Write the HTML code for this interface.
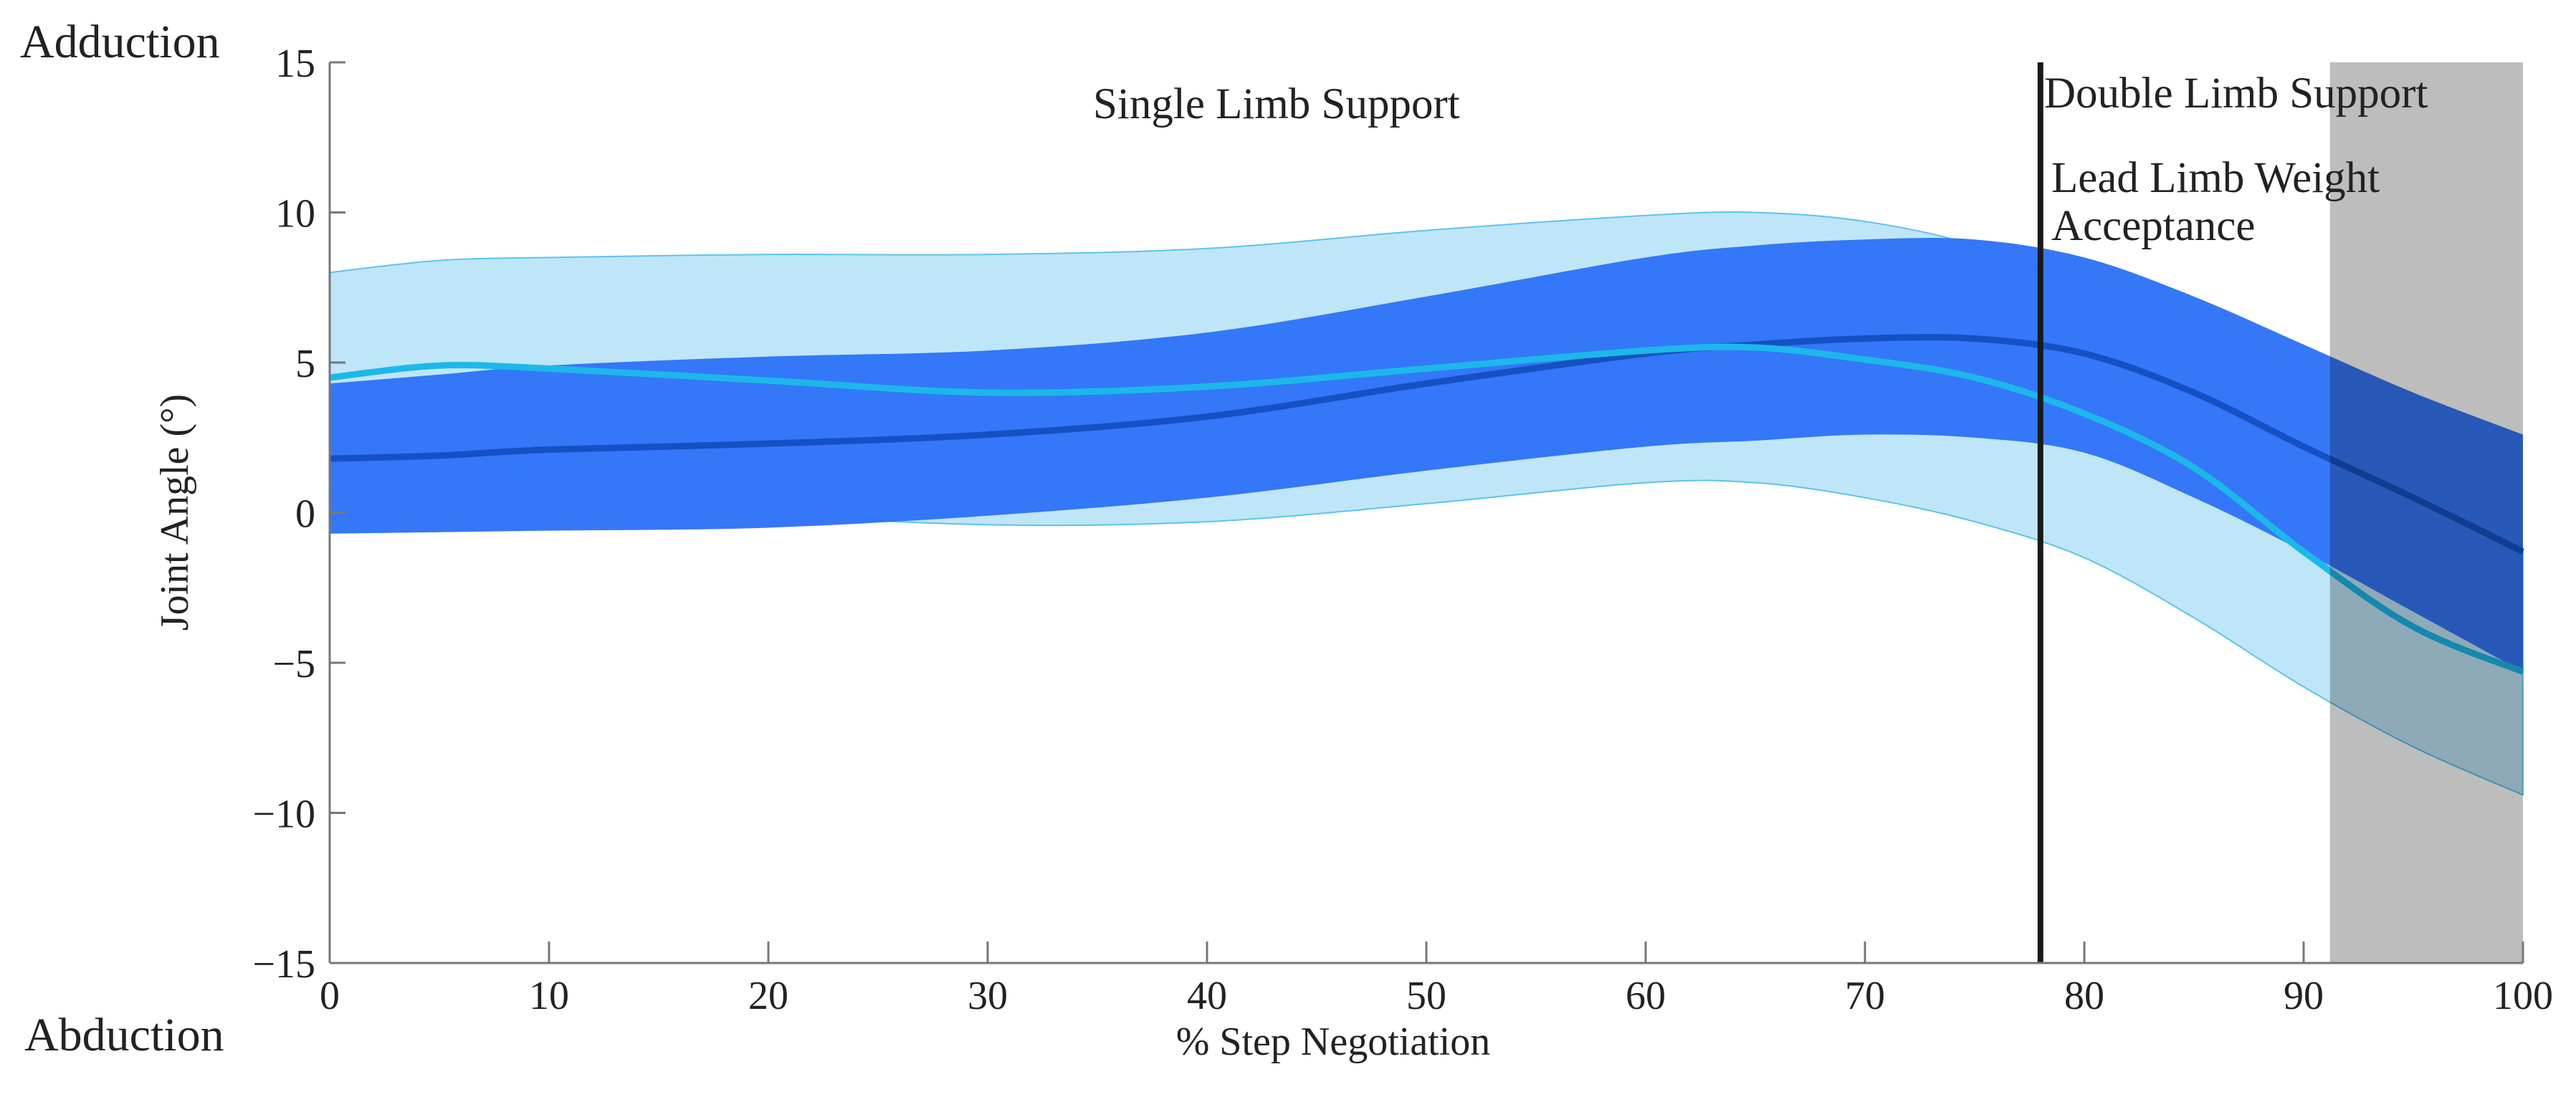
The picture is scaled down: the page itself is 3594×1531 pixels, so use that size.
<!DOCTYPE html>
<html><head><meta charset="utf-8"><style>
html,body{margin:0;padding:0;background:#fff;}
svg{display:block;font-family:"Liberation Serif",serif;}
</style></head><body>
<svg id="chart" width="3594" height="1531" viewBox="0 0 3594 1531" xmlns="http://www.w3.org/2000/svg">
<g id="bands"></g>
<g id="lines"></g>
<rect id="gray" fill="#bdbdbd" style="mix-blend-mode:multiply"/>
<line id="vline" stroke="#1a1a1a" stroke-width="8"/>
<g id="axes" stroke="#777" stroke-width="3" fill="none"></g>
<g id="ticklabels" font-size="56" fill="#222"></g>
<text x="28" y="80" font-size="66" fill="#222">Adduction</text>
<text x="34" y="1466" font-size="66" fill="#222">Abduction</text>
<text x="1860" y="1472" font-size="56" fill="#222" text-anchor="middle">% Step Negotiation</text>
<text x="0" y="0" font-size="56" fill="#222" text-anchor="middle" transform="translate(262,715) rotate(-90)">Joint  Angle  (°)</text>
<text x="1525" y="165" font-size="61" fill="#222">Single Limb Support</text>
<text x="2852" y="150" font-size="61" fill="#222">Double Limb Support</text>
<text x="2862" y="268" font-size="61" fill="#222">Lead Limb Weight</text>
<text x="2862" y="335" font-size="61" fill="#222">Acceptance</text>
</svg>
<script>
const xs = [0,5,10,20,30,40,50,60,65,70,75,80,85,90,95,100];
const lightMean  = [4.5,4.9,4.8,4.4,4.0,4.2,4.8,5.4,5.5,5.1,4.5,3.3,1.5,-1.3,-3.8,-5.3];
const lightUpper = [8.0,8.4,8.5,8.6,8.6,8.8,9.4,9.9,10.0,9.7,8.9,7.4,4.6,1.8,-0.2,-1.3];
const lightLower = [1.0,1.3,1.0,0.0,-0.4,-0.3,0.3,1.0,1.0,0.5,-0.3,-1.5,-3.5,-5.8,-7.8,-9.4];
const darkMean   = [1.8,1.9,2.1,2.3,2.6,3.2,4.3,5.3,5.6,5.8,5.8,5.3,4.0,2.2,0.5,-1.3];
const darkUpper  = [4.3,4.6,4.9,5.2,5.4,6.0,7.2,8.5,8.9,9.1,9.1,8.5,7.2,5.6,4.0,2.6];
const darkLower  = [-0.7,-0.65,-0.6,-0.5,-0.1,0.5,1.4,2.2,2.4,2.6,2.5,2.0,0.5,-1.3,-3.3,-5.3];
const xTicks = [0,10,20,30,40,50,60,70,80,90,100];
const yTicks = [-15,-10,-5,0,5,10,15];
const dividerX = 78;
const shadeStart = 91.2;

const X0=460,X1=3520,Y0=87,Y1=1344;
const sx=v=>X0+(v-0)/(100-0)*(X1-X0);
const sy=v=>Y1-(v+15)/30*(Y1-Y0);
const NS='http://www.w3.org/2000/svg';
function mk(tag,attrs,parent){const e=document.createElementNS(NS,tag);for(const k in attrs)e.setAttribute(k,attrs[k]);parent.appendChild(e);return e;}
function spline(px,py){
  let d='';
  for(let i=0;i<px.length-1;i++){
    const p0=[px[Math.max(i-1,0)],py[Math.max(i-1,0)]],p1=[px[i],py[i]],p2=[px[i+1],py[i+1]],p3=[px[Math.min(i+2,px.length-1)],py[Math.min(i+2,px.length-1)]];
    const c1=[p1[0]+(p2[0]-p0[0])/6,p1[1]+(p2[1]-p0[1])/6],c2=[p2[0]-(p3[0]-p1[0])/6,p2[1]-(p3[1]-p1[1])/6];
    if(i===0)d+='M'+p1[0]+','+p1[1];
    d+=' C'+c1[0]+','+c1[1]+' '+c2[0]+','+c2[1]+' '+p2[0]+','+p2[1];
  }
  return d;
}
function bandPath(up,lo){
  const px=xs.map(sx);
  const top=spline(px,up.map(sy));
  const rpx=px.slice().reverse(),rlo=lo.map(sy).reverse();
  const bot=spline(rpx,rlo).replace('M','L');
  return top+' '+bot+' Z';
}
const bands=document.getElementById('bands');
const lb=mk('path',{d:bandPath(lightUpper,lightLower),fill:'#bfe6f8',stroke:'#5cc3ec','stroke-width':2},bands);


const db=mk('path',{d:bandPath(darkUpper,darkLower),fill:'#2f73f8','fill-opacity':0.97},bands);


const lines=document.getElementById('lines');
const dl=mk('path',{d:spline(xs.map(sx),darkMean.map(sy)),fill:'none',stroke:'#1550c4','stroke-width':9},lines);


const ll=mk('path',{d:spline(xs.map(sx),lightMean.map(sy)),fill:'none',stroke:'#1cb8ea','stroke-width':9},lines);



const g=document.getElementById('gray');
g.setAttribute('x',sx(shadeStart));g.setAttribute('y',Y0);
g.setAttribute('width',sx(100)-sx(shadeStart));g.setAttribute('height',Y1-Y0);
const v=document.getElementById('vline');
v.setAttribute('x1',sx(dividerX));v.setAttribute('x2',sx(dividerX));v.setAttribute('y1',Y0);v.setAttribute('y2',Y1);

const axes=document.getElementById('axes');
const ya=mk('line',{x1:X0,x2:X0,y1:Y0,y2:Y1},axes);


const xa=mk('line',{x1:X0,x2:X1,y1:Y1,y2:Y1},axes);


const tl=document.getElementById('ticklabels');
xTicks.forEach(t=>{
  const tk=mk('line',{x1:sx(t),x2:sx(t),y1:Y1,y2:Y1-30},axes);
  
  
  const tx=mk('text',{x:sx(t),y:1408,'text-anchor':'middle'},tl);
  tx.textContent=t;
  
  
});
yTicks.forEach(t=>{
  const tk=mk('line',{x1:X0,x2:X0+22,y1:sy(t),y2:sy(t)},axes);
  
  
  const tx=mk('text',{x:440,y:sy(t)+20,'text-anchor':'end'},tl);
  tx.textContent=t<0?'\u2212'+Math.abs(t):t;
  
  
});
</script>
</body></html>
